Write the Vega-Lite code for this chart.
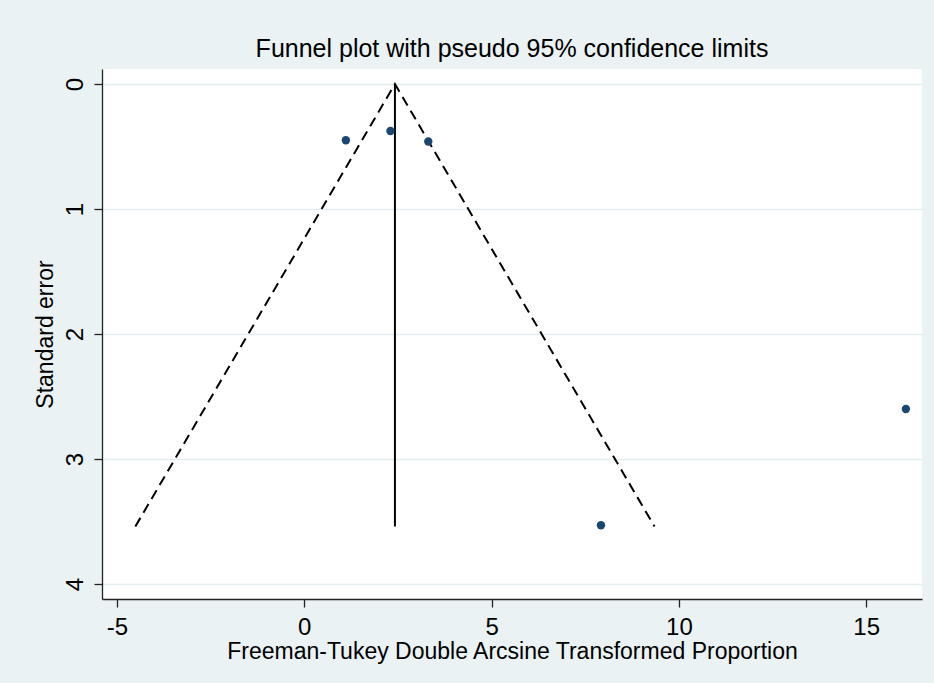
{
  "$schema": "https://vega.github.io/schema/vega-lite/v6.json",
  "autosize": {"type": "none"},
  "width": 820,
  "height": 530,
  "padding": {"left": 102, "top": 69, "right": 12, "bottom": 84},
  "background": "#EAF2F3",
  "config": {
    "view": {"fill": "white", "stroke": null},
    "font": "Liberation Sans"
  },
  "title": {
    "text": "Funnel plot with pseudo 95% confidence limits",
    "font": "Liberation Sans",
    "fontSize": 25,
    "fontWeight": "normal",
    "color": "#000000",
    "anchor": "middle",
    "offset": 7
  },
  "datasets": {
    "studies": [
      {"proportion": 1.11, "se": 0.45},
      {"proportion": 2.3, "se": 0.376},
      {"proportion": 3.31, "se": 0.46},
      {"proportion": 7.92, "se": 3.53},
      {"proportion": 16.06, "se": 2.6}
    ],
    "funnel": [
      {"proportion": -4.51, "se": 3.54, "ord": 1},
      {"proportion": 2.42, "se": 0.0, "ord": 2},
      {"proportion": 9.35, "se": 3.54, "ord": 3}
    ],
    "center": [
      {"proportion": 2.42, "se": 0.0},
      {"proportion": 2.42, "se": 3.54}
    ]
  },
  "layer": [
    {
      "data": {"name": "funnel"},
      "mark": {"type": "line", "color": "#000000", "strokeWidth": 2, "strokeDash": [10, 6]},
      "encoding": {
        "x": {
          "field": "proportion", "type": "quantitative",
          "scale": {"domain": [-5.4, 16.49], "nice": false, "zero": false},
          "axis": {
            "title": "Freeman-Tukey Double Arcsine Transformed Proportion",
            "values": [-5, 0, 5, 10, 15],
            "labelExpr": "datum.value + ''",
            "grid": false,
            "domainColor": "#222222", "domainWidth": 1.3,
            "tickColor": "#222222", "tickWidth": 1.3, "tickSize": 8,
            "labelFont": "Liberation Sans", "labelFontSize": 24, "labelColor": "#000000",
            "labelPadding": 8,
            "titleFont": "Liberation Sans", "titleFontSize": 23, "titleFontWeight": "normal", "titleColor": "#000000",
            "titlePadding": 1
          }
        },
        "y": {
          "field": "se", "type": "quantitative",
          "scale": {"domain": [-0.12, 4.12], "nice": false, "zero": false, "reverse": true},
          "axis": {
            "title": "Standard error",
            "values": [0, 1, 2, 3, 4],
            "labelExpr": "datum.value + ''",
            "grid": true, "gridColor": "#E4EEF0", "gridWidth": 1.6,
            "domainColor": "#222222", "domainWidth": 1.3,
            "tickColor": "#222222", "tickWidth": 1.3, "tickSize": 8,
            "labelAngle": 270,
            "labelFont": "Liberation Sans", "labelFontSize": 24, "labelColor": "#000000",
            "labelPadding": 7,
            "titleFont": "Liberation Sans", "titleFontSize": 23, "titleFontWeight": "normal", "titleColor": "#000000",
            "titlePadding": 6
          }
        },
        "order": {"field": "ord"}
      }
    },
    {
      "data": {"name": "center"},
      "mark": {"type": "line", "color": "#000000", "strokeWidth": 2},
      "encoding": {
        "x": {"field": "proportion", "type": "quantitative"},
        "y": {"field": "se", "type": "quantitative"}
      }
    },
    {
      "data": {"name": "studies"},
      "mark": {"type": "point", "filled": true, "shape": "circle", "color": "#1A476F", "opacity": 1, "size": 70},
      "encoding": {
        "x": {"field": "proportion", "type": "quantitative"},
        "y": {"field": "se", "type": "quantitative"}
      }
    }
  ]
}
